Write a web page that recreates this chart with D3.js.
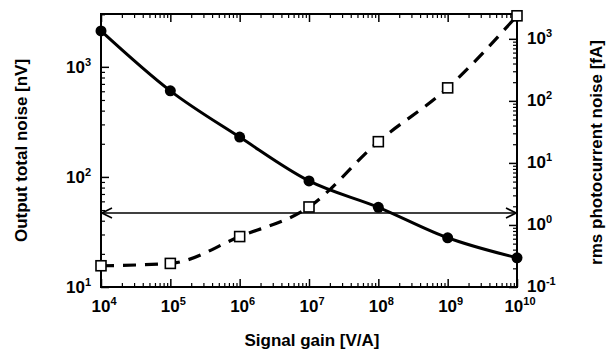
<!DOCTYPE html>
<html>
<head>
<meta charset="utf-8">
<script src="https://cdn.jsdelivr.net/npm/d3@7"></script>
<style>
  body { margin: 0; background: #fff; }
  svg { display: block; font-family: "Liberation Sans", Arial, sans-serif; font-weight: bold; }
</style>
</head>
<body>
<div id="app"></div>
<script>
// signal gain [V/A]
const gains = [1e4, 1e5, 1e6, 1e7, 1e8, 1e9, 1e10];
// output total noise [nV] (solid, left axis)
const outputNoise = [2120, 605, 230, 92, 53, 28, 18.4];
// rms photocurrent noise [fA] (dashed, right axis)
const photoNoise = [0.22, 0.24, 0.65, 1.95, 22, 162, 2350];
// horizontal reference level, read on left axis [nV]
const refLevel = 47;

const xTickExps = [4, 5, 6, 7, 8, 9, 10];
const leftTickExps = [1, 2, 3];
const rightTickExps = [-1, 0, 1, 2, 3];

const width = 609, height = 354;
const margin = { top: 14, left: 101, right: 92, bottom: 67 };
const x0 = margin.left, x1 = width - margin.right;
const y0 = margin.top, y1 = height - margin.bottom;

const svg = d3.select("#app").append("svg")
  .attr("width", width).attr("height", height);

const x = d3.scaleLog().domain([1e4, 1e10]).range([x0, x1]);
const yL = d3.scaleLog().domain([10, Math.pow(10, 3.48)]).range([y1, y0]);
const yR = d3.scaleLog().domain([0.1, Math.pow(10, 3.4)]).range([y1, y0]);

function minorTicks(lo, hi) {
  const out = [];
  for (let e = lo; e < hi; e++)
    for (let m = 2; m <= 9; m++) out.push(m * Math.pow(10, e));
  return out;
}
const decades = (lo, hi) => d3.range(lo, hi + 1).map(e => Math.pow(10, e));

function drawTicks(axisFn, scale, major, minor, transform) {
  svg.append("g").attr("transform", transform)
    .call(axisFn(scale).tickValues(minor).tickSize(4).tickFormat(""))
    .call(g => g.select(".domain").remove())
    .selectAll("line").attr("stroke-width", 1.2);
  svg.append("g").attr("transform", transform)
    .call(axisFn(scale).tickValues(major).tickSize(8).tickFormat(""))
    .call(g => g.select(".domain").remove())
    .selectAll("line").attr("stroke-width", 1.5);
}

const xMinor = minorTicks(4, 10).filter(v => v < 1e10);
drawTicks(d3.axisTop, x, decades(4, 10), xMinor, `translate(0,${y1})`);
drawTicks(d3.axisBottom, x, decades(4, 10), xMinor, `translate(0,${y0})`);
drawTicks(d3.axisRight, yL, decades(1, 3), minorTicks(1, 4).filter(v => v < yL.domain()[1]), `translate(${x0},0)`);
drawTicks(d3.axisLeft, yR, decades(-1, 3), minorTicks(-1, 4).filter(v => v < yR.domain()[1]), `translate(${x1},0)`);

svg.append("rect")
  .attr("x", x0).attr("y", y0).attr("width", x1 - x0).attr("height", y1 - y0)
  .attr("fill", "none").attr("stroke", "#000").attr("stroke-width", 2);

function powLabel(px, py, exp, anchor) {
  const t = svg.append("text").attr("x", px).attr("y", py)
    .attr("text-anchor", anchor).attr("font-size", 17);
  t.append("tspan").text("10");
  t.append("tspan").attr("font-size", 11).attr("dy", -7).text(exp);
}

xTickExps.forEach(e => powLabel(x(Math.pow(10, e)) + 3, y1 + 25, e, "middle"));
leftTickExps.forEach(e => powLabel(x0 - 10, yL(Math.pow(10, e)) + 6, e, "end"));
rightTickExps.forEach(e => powLabel(x1 + 10, yR(Math.pow(10, e)) + 5, e, "start"));

svg.append("text").attr("x", 312).attr("y", 346)
  .attr("text-anchor", "middle").attr("font-size", 17)
  .text("Signal gain [V/A]");
svg.append("text")
  .attr("transform", `translate(27,${(y0 + y1) / 2}) rotate(-90)`)
  .attr("text-anchor", "middle").attr("font-size", 17)
  .text("Output total noise [nV]");
svg.append("text")
  .attr("transform", `translate(602,${(y0 + y1) / 2 + 2}) rotate(-90)`)
  .attr("text-anchor", "middle").attr("font-size", 17)
  .text("rms photocurrent noise [fA]");

// reference arrow line
const defs = svg.append("defs");
defs.append("marker").attr("id", "arr")
  .attr("viewBox", "0 0 12 12").attr("refX", 11).attr("refY", 6)
  .attr("markerWidth", 12).attr("markerHeight", 12)
  .attr("markerUnits", "userSpaceOnUse").attr("orient", "auto-start-reverse")
  .append("path").attr("d", "M1,1 L11,6 L1,11")
  .attr("fill", "none").attr("stroke", "#000").attr("stroke-width", 1.6);

svg.append("line")
  .attr("x1", x0 + 1).attr("x2", x1 - 1)
  .attr("y1", yL(refLevel)).attr("y2", yL(refLevel))
  .attr("stroke", "#000").attr("stroke-width", 1.4)
  .attr("marker-start", "url(#arr)").attr("marker-end", "url(#arr)");

const plot = svg.append("g");

const lineL = d3.line().x((d, i) => x(gains[i])).y(d => yL(d)).curve(d3.curveMonotoneX);
const lineR = d3.line().x((d, i) => x(gains[i])).y(d => yR(d)).curve(d3.curveMonotoneX);

plot.append("path").datum(photoNoise).attr("d", lineR)
  .attr("fill", "none").attr("stroke", "#000").attr("stroke-width", 3.2)
  .attr("stroke-dasharray", "13,9");

plot.append("path").datum(outputNoise).attr("d", lineL)
  .attr("fill", "none").attr("stroke", "#000").attr("stroke-width", 3);

plot.selectAll("circle").data(outputNoise).enter().append("circle")
  .attr("cx", (d, i) => x(gains[i])).attr("cy", d => yL(d))
  .attr("r", 5.5).attr("fill", "#000");

plot.selectAll("rect.sq").data(photoNoise).enter().append("rect")
  .attr("class", "sq")
  .attr("x", (d, i) => x(gains[i]) - 5).attr("y", d => yR(d) - 5)
  .attr("width", 10).attr("height", 10)
  .attr("fill", "#fff").attr("stroke", "#000").attr("stroke-width", 1.6);
</script>
</body>
</html>
